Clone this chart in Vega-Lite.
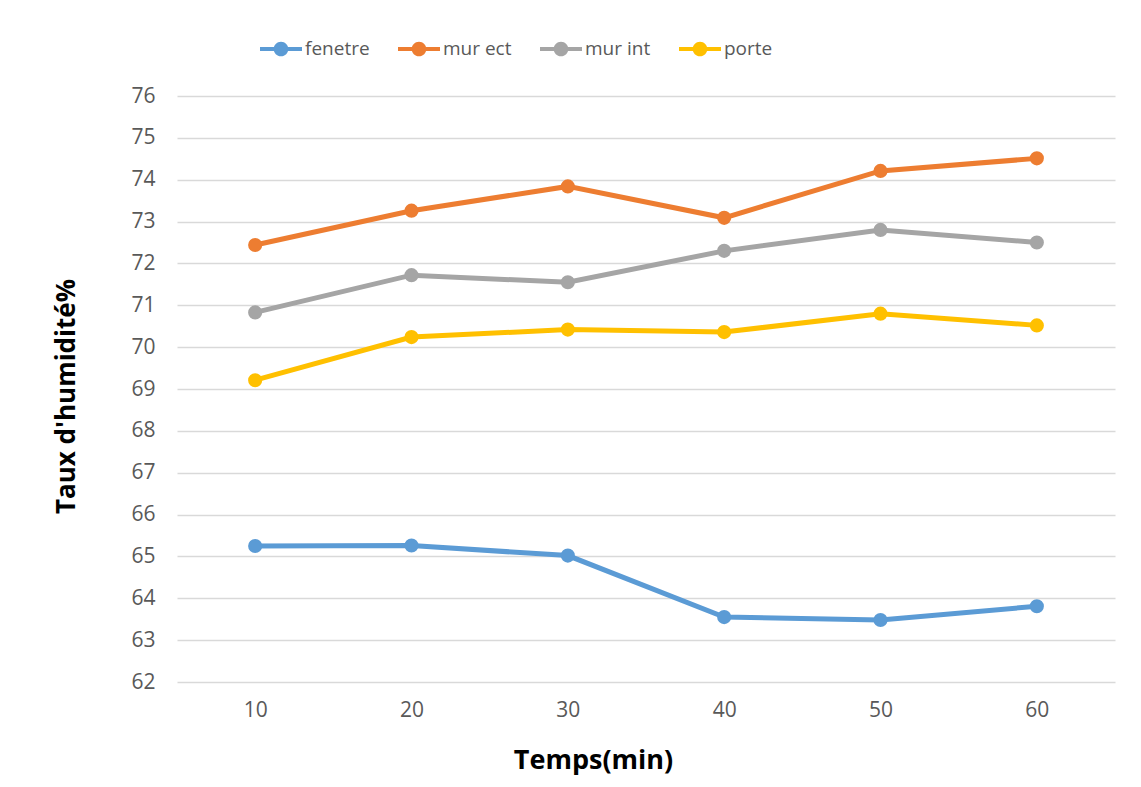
{
  "$schema": "https://vega.github.io/schema/vega-lite/v6.json",
  "width": 938,
  "height": 586,
  "autosize": {"type": "none"},
  "padding": {"left": 177, "top": 96, "right": 26, "bottom": 105},
  "background": "white",
  "config": {
    "view": {"stroke": null},
    "font": "Open Sans"
  },
  "data": {
    "values": [
      {"t": 10, "serie": "fenetre", "val": 65.25},
      {"t": 20, "serie": "fenetre", "val": 65.26},
      {"t": 30, "serie": "fenetre", "val": 65.02},
      {"t": 40, "serie": "fenetre", "val": 63.55},
      {"t": 50, "serie": "fenetre", "val": 63.48},
      {"t": 60, "serie": "fenetre", "val": 63.81},
      {"t": 10, "serie": "mur ect", "val": 72.44},
      {"t": 20, "serie": "mur ect", "val": 73.26},
      {"t": 30, "serie": "mur ect", "val": 73.84},
      {"t": 40, "serie": "mur ect", "val": 73.09},
      {"t": 50, "serie": "mur ect", "val": 74.21},
      {"t": 60, "serie": "mur ect", "val": 74.51},
      {"t": 10, "serie": "mur int", "val": 70.83},
      {"t": 20, "serie": "mur int", "val": 71.72},
      {"t": 30, "serie": "mur int", "val": 71.55},
      {"t": 40, "serie": "mur int", "val": 72.30},
      {"t": 50, "serie": "mur int", "val": 72.80},
      {"t": 60, "serie": "mur int", "val": 72.50},
      {"t": 10, "serie": "porte", "val": 69.21},
      {"t": 20, "serie": "porte", "val": 70.24},
      {"t": 30, "serie": "porte", "val": 70.42},
      {"t": 40, "serie": "porte", "val": 70.36},
      {"t": 50, "serie": "porte", "val": 70.80},
      {"t": 60, "serie": "porte", "val": 70.52}
    ]
  },
  "encoding": {
    "x": {
      "field": "t",
      "type": "ordinal",
      "scale": {"type": "point", "padding": 0.5},
      "axis": {
        "title": "Temps(min)",
        "titleFontSize": 27,
        "titleFontWeight": "bold",
        "titleColor": "#000000",
        "titleX": 416,
        "titleY": 78,
        "titleBaseline": "middle",
        "labelAngle": 0,
        "labelFontSize": 21,
        "labelColor": "#595959",
        "labelPadding": 17,
        "domain": false,
        "ticks": false,
        "grid": false
      }
    },
    "y": {
      "field": "val",
      "type": "quantitative",
      "scale": {"domain": [62, 76], "nice": false, "zero": false},
      "axis": {
        "values": [62, 63, 64, 65, 66, 67, 68, 69, 70, 71, 72, 73, 74, 75, 76],
        "title": "Taux d'humidité%",
        "titleFontSize": 26,
        "titleFontWeight": "bold",
        "titleColor": "#000000",
        "titleX": -98,
        "titleY": 300,
        "labelFontSize": 21,
        "labelColor": "#595959",
        "labelPadding": 22,
        "domain": false,
        "ticks": false,
        "grid": true,
        "gridColor": "#d9d9d9",
        "gridWidth": 1.3
      }
    },
    "color": {
      "field": "serie",
      "type": "nominal",
      "scale": {
        "domain": ["fenetre", "mur ect", "mur int", "porte"],
        "range": ["#5B9BD5", "#ED7D31", "#A5A5A5", "#FFC000"]
      },
      "legend": {
        "title": null,
        "orient": "none",
        "direction": "horizontal",
        "columns": 4,
        "legendX": 83,
        "legendY": -68,
        "padding": 0,
        "columnPadding": 28,
        "symbolType": "M-1,-0.1L1,-0.1L1,0.1L-1,0.1Z M0.35,0A0.35,0.35 0 1,1 -0.35,0A0.35,0.35 0 1,1 0.35,0Z",
        "symbolSize": 1764,
        "symbolStrokeWidth": 0,
        "symbolOpacity": 1,
        "labelFontSize": 19,
        "labelColor": "#595959",
        "labelOffset": 3
      }
    }
  },
  "layer": [
    {
      "mark": {"type": "line", "strokeWidth": 5},
      "encoding": {}
    },
    {
      "mark": {"type": "point", "filled": true, "opacity": 1, "size": 200},
      "encoding": {}
    }
  ]
}
